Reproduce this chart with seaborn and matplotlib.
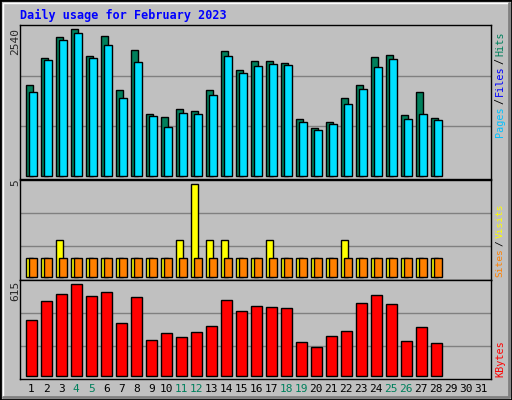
import numpy as np
import matplotlib
matplotlib.use("Agg")
import matplotlib.pyplot as plt
import seaborn as sns

# ----- data -----
days = np.arange(1, 29)
hits = [1570, 2038, 2401, 2540, 2072, 2419, 1484, 2176, 1068, 1016, 1155, 1120, 1484, 2159,
        1830, 1986, 1986, 1951, 981, 826, 929, 1345, 1570, 2055, 2090, 1051, 1449, 999]
files = [1449, 2003, 2350, 2471, 2038, 2263, 1345, 1969, 1033, 843, 1085, 1068, 1397, 2072,
         1778, 1899, 1934, 1917, 929, 791, 895, 1241, 1501, 1882, 2021, 981, 1068, 964]
visits = [1, 1, 2, 1, 1, 1, 1, 1, 1, 1, 2, 5, 2, 2, 1, 1, 2, 1, 1, 1, 1, 2, 1, 1, 1, 1, 1, 1]
sites = [1] * 28
kbytes = [373, 500, 548, 615, 534, 561, 352, 527, 238, 285, 258, 292, 332, 507,
          433, 467, 460, 453, 224, 191, 265, 299, 487, 541, 480, 231, 325, 218]
weekend = [4, 5, 11, 12, 18, 19, 25, 26]

sns.set_style("white")
plt.rcParams['font.family'] = ['DejaVu Sans Mono']

W, H = 512, 400
fig = plt.figure(figsize=(W / 100, H / 100), dpi=100)
fig.patch.set_facecolor('#C0C0C0')

GREEN = '#00805C'
CYAN = '#00E0FF'


def panel(top, base, bottom, per_px):
    ax = fig.add_axes([20 / W, (H - bottom) / H, 471 / W, (bottom - top) / H])
    ax.set_facecolor('#C0C0C0')
    ax.set_xlim(0.25, 31.65)
    ax.set_ylim(-(bottom - base) * per_px, (base - top) * per_px)
    ax.set_xticks([])
    ax.set_yticks([])
    for s in ax.spines.values():
        s.set_color('black')
        s.set_linewidth(1)
    return ax


def grid(ax, ys):
    for y in ys:
        ax.axhline(y, color='#808080', lw=1, zorder=0)


kw = dict(edgecolor='black', linewidth=1, align='edge')

# top: hits / files
s1 = 2540 / 147
ax1 = panel(25, 176, 179, s1)
grid(ax1, [50 * s1, 100 * s1])
ax1.bar(days - 0.37, hits, width=0.46, color=GREEN, **kw)
ax1.bar(days - 0.13, files, width=0.49, color=CYAN, **kw)

# middle: visits / sites
s2 = 5 / 92.3
ax2 = panel(180, 276.7, 280, s2)
grid(ax2, [30.4 * s2, 63.3 * s2])
ax2.bar(days - 0.37, visits, width=0.49, color='#FFFF00', **kw)
ax2.bar(days - 0.13, sites, width=0.49, color='#FF8000', **kw)

# bottom: kbytes
s3 = 615 / 91.3
ax3 = panel(280, 375.7, 378.5, s3)
grid(ax3, [29.7 * s3, 62.4 * s3])
ax3.bar(days - 0.37, kbytes, width=0.73, color='#FF0000', **kw)

# day labels
for d in range(1, 32):
    fig.text((31.3 + (d - 1) * 15) / W, 1 - 389 / H, str(d), ha='center', va='center',
             fontsize=8, color=GREEN if d in weekend else 'black')

# left scale labels
for txt, y in [('2540', 28), ('5', 179), ('615', 281)]:
    fig.text(15 / W, 1 - y / H, txt, rotation=90, ha='center', va='top', fontsize=8)

renderer = fig.canvas.get_renderer()


# right side legends (rotated, coloured pieces, measured one after another)
def vlabel(pieces, y0, size=7.6):
    y = H - y0
    for txt, col in pieces:
        t = fig.text(500 / W, y / H, txt, rotation=90, ha='center', va='bottom',
                     fontsize=size, color=col)
        bb = t.get_window_extent(renderer)
        y += bb.height + 2

vlabel([('Pages', '#00C0FF'), ('/', 'black'), ('Files', '#0000FF'), ('/', 'black'),
        ('Hits', GREEN)], 137, 7.3)
vlabel([('Sites', '#FF8000'), ('/', 'black'), ('Visits', '#FFFF00')], 277, 6.8)
vlabel([('KBytes', '#FF0000')], 377, 7.3)

fig.text(20 / W, 1 - 15 / H, 'Daily usage for February 2023', color='#0000FF',
         fontsize=8.5, fontweight='bold', ha='left', va='center')

# outer frame
fig.add_artist(plt.Rectangle((0, 0), 1, 1, transform=fig.transFigure, fill=False,
                             edgecolor='black', lw=2))
fig.add_artist(plt.Line2D([3 / W, 3 / W, 1 - 3 / W], [3 / H, 1 - 3 / H, 1 - 3 / H],
                          transform=fig.transFigure, color='white', lw=1))
fig.add_artist(plt.Line2D([3 / W, 1 - 3 / W, 1 - 3 / W], [3 / H, 3 / H, 1 - 3 / H],
                          transform=fig.transFigure, color='#808080', lw=2))

fig.savefig('out.png', dpi=100, facecolor=fig.get_facecolor())
